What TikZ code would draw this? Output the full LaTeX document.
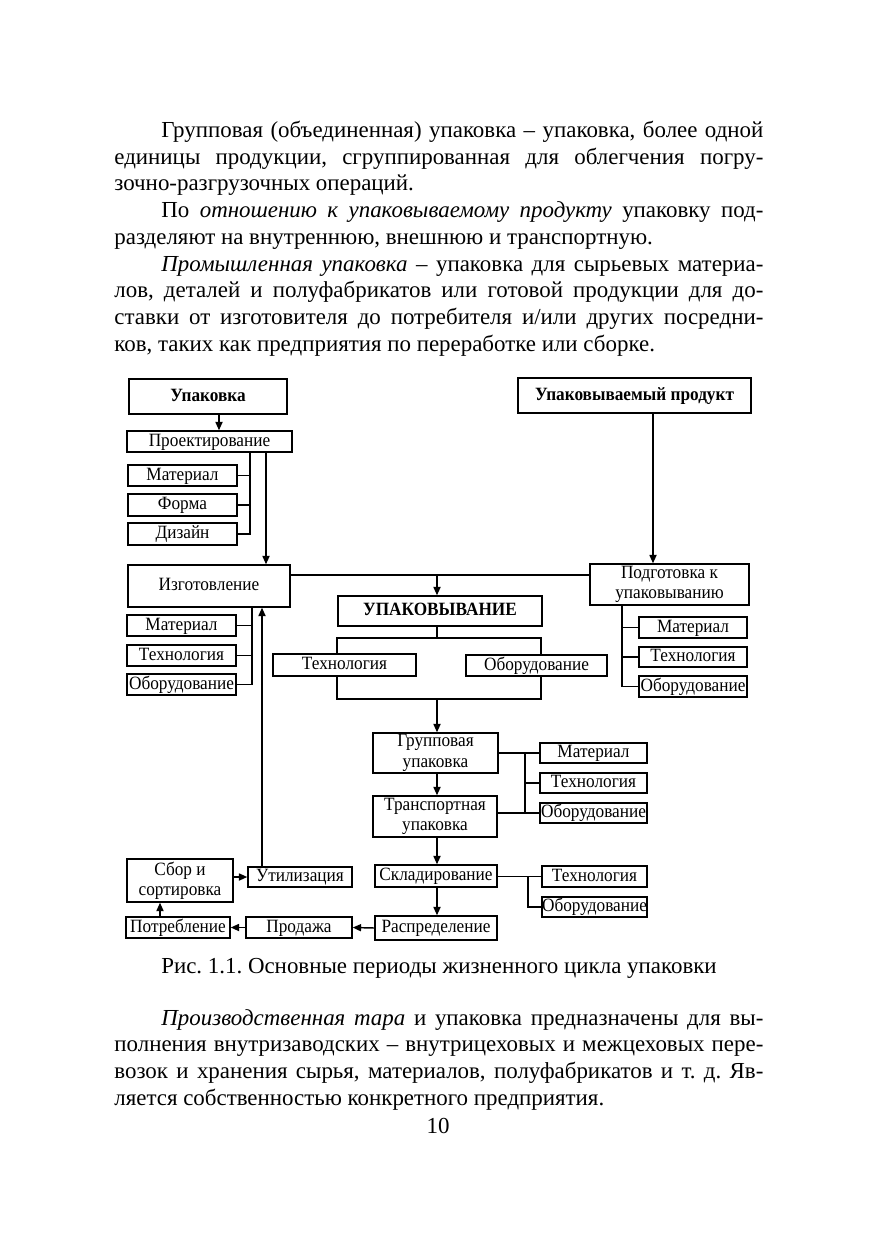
\documentclass[tikz,border=0pt]{standalone}
\usepackage{fontspec}
\setmainfont{Liberation Serif}
\newfontfamily\diafont{Liberation Serif}[FakeStretch=0.92]
\usetikzlibrary{arrows.meta}
\frenchspacing
\tikzset{
  box/.style={draw, line width=0.7pt, fill=white, inner sep=0pt, align=center,
              text height=6.3pt, text depth=1.9pt,
              font=\diafont\fontsize{9}{9.8}\selectfont},
  multi/.style={text height=, text depth=},
  bbox/.style={font=\diafont\fontsize{9}{9.8}\selectfont\bfseries},
  ln/.style={line width=0.7pt},
  arr/.style={ln, -{Triangle[length=4pt,width=3.4pt]}},
  body/.style={anchor=base west, inner sep=0pt, font=\fontsize{11}{13}\selectfont},
  capt/.style={anchor=base, inner sep=0pt, font=\fontsize{11}{13}\selectfont},
}
\newcommand{\jline}[2]{\makebox[#1][s]{#2}}
% \bx[opts]{name}{x1}{y1}{x2}{y2}{text}   (pixel coordinates)
\newcommand{\bx}[7][]{%
  \pgfmathsetmacro{\bxcx}{(#3+#5)/2}\pgfmathsetmacro{\bxcy}{(#4+#6)/2}%
  \pgfmathsetmacro{\bxww}{(#5-#3)*0.48}\pgfmathsetmacro{\bxhh}{(#6-#4)*0.48}%
  \node[box,#1,minimum width=\bxww pt,minimum height=\bxhh pt] (#2) at (\bxcx,\bxcy) {#7};}
\begin{document}
\begin{tikzpicture}[x=0.48pt, y=-0.48pt]
\useasboundingbox[fill=white] (0,0) rectangle (876,1240);

% ---- body text (top)
\node[body] (t1) at (161,137.5) {\jline{288.96pt}{Групповая (объединенная) упаковка – упаковка, более одной}};
\node[body] (t2) at (114,164.2) {\jline{311.52pt}{единицы продукции, сгруппированная для облегчения погру-}};
\node[body] (t3) at (114,190.9) {зочно-разгрузочных операций.};
\node[body] (t4) at (161,217.6) {\jline{288.96pt}{По \textit{отношению к упаковываемому продукту} упаковку под-}};
\node[body] (t5) at (114,244.3) {разделяют на внутреннюю, внешнюю и транспортную.};
\node[body] (t6) at (161,271.0) {\jline{288.96pt}{\textit{Промышленная упаковка} – упаковка для сырьевых материа-}};
\node[body] (t7) at (114,297.7) {\jline{311.52pt}{лов, деталей и полуфабрикатов или готовой продукции для до-}};
\node[body] (t8) at (114,324.4) {\jline{311.52pt}{ставки от изготовителя до потребителя и/или других посредни-}};
\node[body] (t9) at (114,351.1) {ков, таких как предприятия по переработке или сборке.};

% ---- diagram boxes
\bx[bbox]{upak}{129}{379}{287}{414}{Упаковка}
\bx{proj}{127}{431}{292}{452}{Проектирование}
\bx{pm}{128}{465}{237}{486}{Материал}
\bx{pf}{128}{494}{237}{516}{Форма}
\bx{pd}{128}{523}{237}{545}{Дизайн}
\bx{izg}{128}{565}{290}{607}{Изготовление}
\bx{im}{127}{615}{236}{636}{Материал}
\bx{it}{127}{645}{236}{666}{Технология}
\bx{io}{127}{674}{236}{695}{Оборудование}
\bx[bbox]{prod}{518}{378}{751}{413}{Упаковываемый продукт}
\bx[multi]{podg}{590}{564}{749}{605}{Подготовка к\\упаковыванию}
\bx{km}{639}{617}{747}{638}{Материал}
\bx{kt}{639}{647}{747}{667}{Технология}
\bx{ko}{639}{676}{747}{697}{Оборудование}
\bx[bbox]{upv}{338}{596}{542}{626}{УПАКОВЫВАНИЕ}
\bx{frame}{337}{638}{541}{699}{}
\bx{ut}{273}{654}{416}{676}{Технология}
\bx{uo}{466}{655}{607}{676}{Оборудование}
\bx[multi]{grp}{373}{733}{498}{773}{Групповая\\упаковка}
\bx[multi]{trn}{373}{796}{497}{837}{Транспортная\\упаковка}
\bx{gm}{540}{743}{647}{763}{Материал}
\bx{gt}{540}{773}{647}{793}{Технология}
\bx{go}{540}{803}{647}{823}{Оборудование}
\bx{skl}{375}{865}{497}{887}{Складирование}
\bx{st}{542}{866}{647}{887}{Технология}
\bx{so}{542}{897}{647}{917}{Оборудование}
\bx{rsp}{375}{916}{497}{940}{Распределение}
\bx{prd}{246}{917}{352}{938}{Продажа}
\bx{ptr}{126}{917}{230}{938}{Потребление}
\bx[multi]{sbr}{127}{859}{233}{902}{Сбор и\\сортировка}
\bx{utl}{248}{867}{352}{887}{Утилизация}

% ---- connectors
\draw[arr] (219,0 |- upak.south) -- (219,0 |- proj.north);
\draw[ln] (250,0 |- proj.south) |- (pd.east);
\draw[ln] (pm.east) -- (250,0 |- pm.east);
\draw[ln] (pf.east) -- (250,0 |- pf.east);
\draw[arr] (266,0 |- proj.south) -- (266,0 |- izg.north);
\draw[ln] (252,0 |- izg.south) |- (io.east);
\draw[ln] (im.east) -- (252,0 |- im.east);
\draw[ln] (it.east) -- (252,0 |- it.east);
\draw[ln] (izg.east |- 0,575) -- (podg.west |- 0,575);
\coordinate (j1) at (437,575);
\draw[arr] (j1) -- (j1 |- upv.north);
\draw[arr] (653,0 |- prod.south) -- (653,0 |- podg.north);
\draw[ln] (622,0 |- podg.south) |- (ko.west);
\draw[ln] (622,0 |- km.west) -- (km.west);
\draw[ln] (622,0 |- kt.west) -- (kt.west);
\draw[ln] (437,0 |- upv.south) -- (437,0 |- frame.north);
\draw[arr] (437,0 |- frame.south) -- (437,0 |- grp.north);
\draw[arr] (437,0 |- grp.south) -- (437,0 |- trn.north);
\draw[arr] (437,0 |- trn.south) -- (437,0 |- skl.north);
\draw[arr] (437,0 |- skl.south) -- (437,0 |- rsp.north);
\draw[ln] (grp.east |- gm.west) -- (gm.west);
\draw[ln] (525,0 |- gm.west) -- (525,0 |- go.west);
\draw[ln] (525,0 |- gt.west) -- (gt.west);
\draw[ln] (trn.east |- go.west) -- (go.west);
\draw[ln] (skl.east |- st.west) -- (st.west);
\draw[ln] (528,0 |- st.west) |- (so.west);
\draw[arr] (rsp.west) -- (prd.east);
\draw[arr] (prd.west) -- (ptr.east);
\draw[arr] (160,0 |- ptr.north) -- (160,0 |- sbr.south);
\draw[arr] (sbr.east |- utl.west) -- (utl.west);
\draw[arr] (262,0 |- utl.north) -- (262,0 |- izg.south);

% ---- caption and text (bottom)
\node[capt] (cap) at (439,973) {Рис. 1.1. Основные периоды жизненного цикла упаковки};
\node[body] (b1) at (161,1025) {\jline{288.96pt}{\textit{Производственная тара} и упаковка предназначены для вы-}};
\node[body] (b2) at (114,1051.7) {\jline{311.52pt}{полнения внутризаводских – внутрицеховых и межцеховых пере-}};
\node[body] (b3) at (114,1078.4) {\jline{311.52pt}{возок и хранения сырья, материалов, полуфабрикатов и т.~д. Яв-}};
\node[body] (b4) at (114,1105.1) {ляется собственностью конкретного предприятия.};
\node[capt] (pn) at (438,1133) {10};
\end{tikzpicture}
\end{document}
